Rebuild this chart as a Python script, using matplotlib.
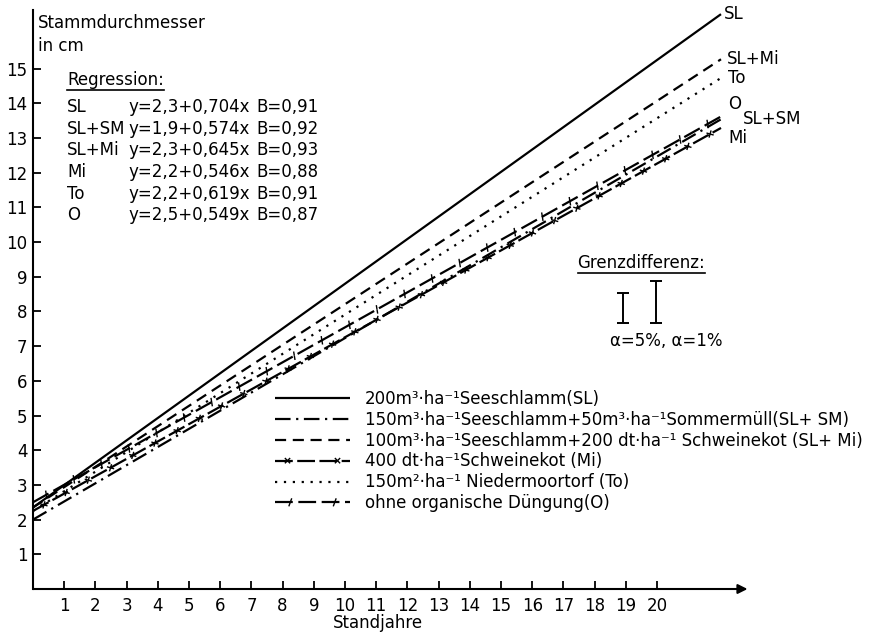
import matplotlib
matplotlib.use('Agg')
import matplotlib.pyplot as plt
import matplotlib.patheffects as pe
from matplotlib.transforms import IdentityTransform

plt.rcParams['font.family'] = ['DejaVu Sans']
plt.rcParams['font.size'] = 12

# Regression (Tabelle im Bild)
kurz = ['SL', 'SL+SM', 'SL+Mi', 'Mi', 'To', 'O']
a_reg = [2.3, 1.9, 2.3, 2.2, 2.2, 2.5]
b_reg = [0.704, 0.574, 0.645, 0.546, 0.619, 0.549]
B_reg = [0.91, 0.92, 0.93, 0.88, 0.91, 0.87]

# gezeichnete Geraden: Anfangs- und Endwerte
x_line = [0, 22.05]
y_start = [2.35, 2.0, 2.35, 2.25, 2.25, 2.5]
y_end = [16.57, 13.54, 15.27, 13.29, 14.73, 13.62]

legende = [
    '200m³·ha⁻¹Seeschlamm(SL)',
    '150m³·ha⁻¹Seeschlamm+50m³·ha⁻¹Sommermüll(SL+ SM)',
    '100m³·ha⁻¹Seeschlamm+200 dt·ha⁻¹ Schweinekot (SL+ Mi)',
    '400 dt·ha⁻¹Schweinekot (Mi)',
    '150m²·ha⁻¹ Niedermoortorf (To)',
    'ohne organische Düngung(O)',
]

# Beschriftung am Linienende und Versatz (Punkte)
end_text = ['SL', 'SL+SM', 'SL+Mi', 'Mi', 'To', 'O']
end_off = [(2, 0), (16, 0), (4, 0), (5, -7), (5, 0), (5, 9)]

# Grenzdifferenz
gd_werte = [0.87, 1.2]
gd_x = [18.9, 19.97]
gd_unten = 7.67

x_ticks = list(range(1, 21))
y_ticks = list(range(1, 16))

fig = plt.figure(figsize=(8.89, 6.32), dpi=100)
ax = fig.add_axes([33 / 889, 43 / 632, 727 / 889, 579 / 632])
ax.set_xlim(0, 23.3)
ax.set_ylim(0, 16.69)

lw = 1.6
solid = {'dash_offset': 0, 'dash_list': None}
x_kreuz = [pe.TickedStroke(spacing=18, angle=a, length=0.15, linewidth=1.0,
                           dashes=solid)
           for a in (45, 135, -45, -135)]
schlaufe = [pe.TickedStroke(spacing=22, angle=a, length=0.14, linewidth=1.0,
                            dashes=solid)
            for a in (70, -110)]

stile = [
    dict(ls='-'),
    dict(ls=(0, (7, 2.5, 1, 2.5))),
    dict(ls=(0, (5, 3))),
    dict(ls=(0, (8, 2)), path_effects=[pe.Normal()] + x_kreuz),
    dict(ls=(0, (1, 3))),
    dict(ls=(0, (8, 2.5)), path_effects=[pe.Normal()] + schlaufe),
]

for i in range(len(kurz)):
    ax.plot(x_line, [y_start[i], y_end[i]], color='black', lw=lw,
            label=legende[i], solid_capstyle='butt', **stile[i])
    ax.annotate(end_text[i], xy=(x_line[1], y_end[i]), xytext=end_off[i],
                textcoords='offset points', va='center', ha='left',
                fontsize=12, annotation_clip=False)

# Regressionstabelle
t_reg = ax.text(1.09, 14.67, 'Regression:', fontsize=12, va='center')
row_y = [13.89, 13.27, 12.65, 12.02, 11.40, 10.78]
for i in range(len(kurz)):
    ax.text(1.09, row_y[i], kurz[i], fontsize=12, va='center')
    ax.text(3.05, row_y[i], f'y={a_reg[i]:.1f}+{b_reg[i]:.3f}x'.replace('.', ','),
            fontsize=12, va='center')
    ax.text(7.15, row_y[i], f'B={B_reg[i]:.2f}'.replace('.', ','),
            fontsize=12, va='center')

# Grenzdifferenz
t_gd = ax.text(19.5, 9.4, 'Grenzdifferenz:', fontsize=12, va='center', ha='center')
for xg, g in zip(gd_x, gd_werte):
    ax.errorbar(xg, gd_unten + g / 2, yerr=g / 2, fmt='none', ecolor='black',
                elinewidth=1.4, capsize=4, capthick=1.4)
ax.text(20.3, 7.15, 'α=5%, α=1%', fontsize=12, va='center', ha='center')

# Legende
ax.legend(loc='upper left', bbox_to_anchor=(275 / 889, 1 - 390 / 632),
          bbox_transform=fig.transFigure, frameon=False, fontsize=12,
          handlelength=4.5, handletextpad=0.9, labelspacing=0.17,
          borderpad=0, borderaxespad=0)

# Achsen
ax.spines['right'].set_color('none')
ax.spines['top'].set_color('none')
ax.spines['bottom'].set_color('none')
ax.spines['left'].set_linewidth(1.5)
ax.annotate('', xy=(22.9, 0), xytext=(0, 0),
            arrowprops=dict(arrowstyle='-|>', color='black', lw=1.5,
                            mutation_scale=14, shrinkA=0, shrinkB=0),
            annotation_clip=False)
ax.set_xticks(x_ticks)
ax.set_yticks(y_ticks)
ax.tick_params(direction='in', length=6, width=1.3, labelsize=12, pad=4)
ax.tick_params(axis='x', pad=6)

fig.text(38 / 889, 1 - 14 / 632, 'Stammdurchmesser\nin cm', fontsize=12,
         va='top', ha='left', linespacing=1.35)
fig.text(378 / 889, 1 - 623 / 632, 'Standjahre', fontsize=12, va='center', ha='center')

# Unterstreichungen
fig.canvas.draw()
for t in (t_reg, t_gd):
    bb = t.get_window_extent()
    fig.add_artist(plt.Line2D([bb.x0, bb.x1], [bb.y0 - 1, bb.y0 - 1],
                              transform=IdentityTransform(), color='black', lw=1.2))

fig.savefig('out.png', dpi=100)
